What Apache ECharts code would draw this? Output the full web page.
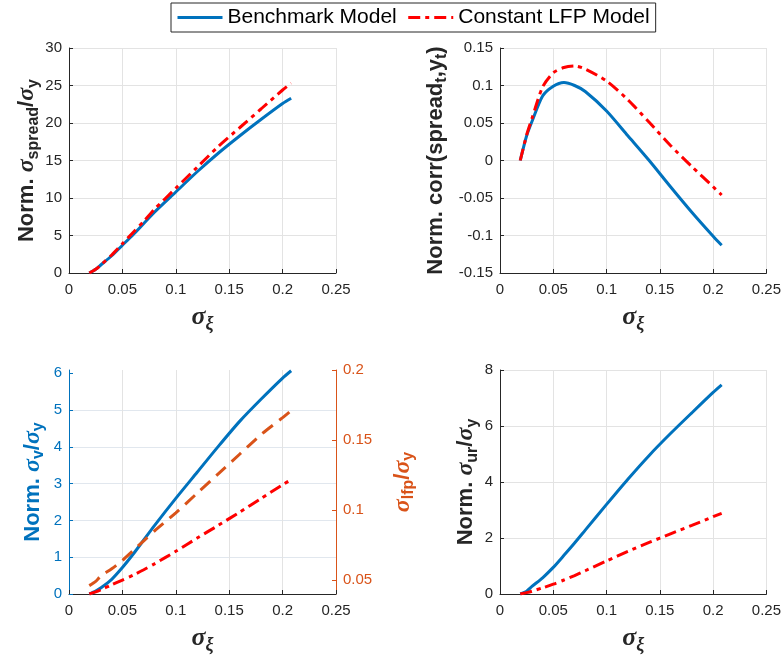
<!DOCTYPE html>
<html>
<head>
<meta charset="utf-8">
<script src="https://cdn.jsdelivr.net/npm/echarts@6/dist/echarts.min.js"></script>
<style>
  html, body { margin: 0; padding: 0; background: #ffffff; }
  #chart { width: 784px; height: 664px; }
</style>
</head>
<body>
<div id="chart"></div>
<script>
// Shock volatility sigma_xi (shared x values of every curve)
const sigmaXi = [0.019, 0.025, 0.03, 0.04, 0.05, 0.06, 0.07, 0.08, 0.10, 0.12, 0.14, 0.16, 0.18, 0.20, 0.208];

// Panel 1: normalised sigma_spread / sigma_y
const spreadBenchmark = [0, 0.5, 1.1, 2.3, 3.7, 5.1, 6.6, 8.1, 10.8, 13.5, 16.0, 18.3, 20.5, 22.6, 23.3];
const spreadConstLfp  = [0, 0.5, 1.1, 2.4, 3.9, 5.4, 6.9, 8.5, 11.3, 14.1, 16.9, 19.4, 21.9, 24.4, 25.3];

// Panel 2: normalised corr(spread_t, y_t)
const corrBenchmark = [0, 0.033, 0.052, 0.086, 0.099, 0.104, 0.100, 0.092, 0.066, 0.033, 0.000, -0.035, -0.069, -0.101, -0.113];
const corrConstLfp  = [0, 0.034, 0.056, 0.098, 0.117, 0.124, 0.126, 0.122, 0.106, 0.081, 0.051, 0.020, -0.008, -0.035, -0.046];

// Panel 3: normalised sigma_v / sigma_y (left) and sigma_lfp / sigma_y (right)
const vBenchmark   = [0, 0.08, 0.17, 0.40, 0.72, 1.08, 1.47, 1.86, 2.60, 3.31, 4.02, 4.70, 5.30, 5.87, 6.07];
const lfpBenchmark = [0.046, 0.049, 0.053, 0.058, 0.064, 0.071, 0.078, 0.085, 0.098, 0.112, 0.126, 0.140, 0.154, 0.166, 0.171];
const vConstLfp    = [0, 0.06, 0.12, 0.25, 0.38, 0.51, 0.66, 0.82, 1.16, 1.52, 1.87, 2.23, 2.60, 2.97, 3.11];

// Panel 4: normalised sigma_ur / sigma_y
const urBenchmark = [0, 0.10, 0.27, 0.58, 0.95, 1.38, 1.82, 2.28, 3.20, 4.10, 4.95, 5.73, 6.47, 7.20, 7.47];
const urConstLfp  = [0, 0.05, 0.10, 0.22, 0.35, 0.50, 0.66, 0.83, 1.18, 1.52, 1.84, 2.15, 2.45, 2.76, 2.88];

// Tick values
const xTicks = [0, 0.05, 0.1, 0.15, 0.2, 0.25];
const lfpTicks = [0.05, 0.1, 0.15, 0.2];
const vTicks = [0, 1, 2, 3, 4, 5, 6];

const legendNames = ['Benchmark Model', 'Constant LFP Model'];

const FONT = '"Liberation Sans", Arial, Helvetica, sans-serif';
const SERIF = '"Liberation Serif", "DejaVu Serif", serif';
const AXC = '#262626';
const GRIDC = '#e3e3e3';
const BLUE = '#0072BD';
const RED = '#FF0000';
const ORANGE = '#D95319';

function pairs(ys) { return sigmaXi.map((x, i) => [x, ys[i]]); }

function labelRich(color) {
  return {
    b:   { fontFamily: FONT, fontWeight: 'bold', fontSize: 22, color: color },
    s:   { fontFamily: SERIF, fontStyle: 'italic', fontWeight: 'bold', fontSize: 24, color: color },
    sub: { fontFamily: FONT, fontWeight: 'bold', fontSize: 16, color: color, padding: [13, 0, 0, 0] }
  };
}

function xAxisFor(gridIndex) {
  return {
    type: 'value', gridIndex: gridIndex, min: 0, max: 0.25, interval: 0.05,
    axisLine: { show: true, onZero: false, lineStyle: { color: AXC, width: 1 } },
    axisTick: { show: true, inside: true, length: 4, lineStyle: { color: AXC } },
    axisLabel: { color: AXC, fontSize: 15, fontFamily: FONT, margin: 9, customValues: xTicks },
    splitLine: { show: true, lineStyle: { color: GRIDC, width: 1 } },
    name: '{s|σ}{xi|ξ}', nameLocation: 'middle', nameGap: 29,
    nameTextStyle: {
      rich: {
        s:  { fontFamily: SERIF, fontStyle: 'italic', fontWeight: 'bold', fontSize: 26, color: AXC },
        xi: { fontFamily: SERIF, fontStyle: 'italic', fontWeight: 'bold', fontSize: 18, color: AXC, padding: [13, 0, 0, 0] }
      }
    }
  };
}

function yAxisFor(gridIndex, opts) {
  const color = opts.color || AXC;
  const ax = {
    type: 'value', gridIndex: gridIndex, min: opts.min, max: opts.max,
    position: opts.position || 'left',
    axisLine: { show: true, onZero: false, lineStyle: { color: color, width: 1 } },
    axisTick: { show: true, inside: true, length: 4, lineStyle: { color: color } },
    axisLabel: { color: color, fontSize: 15, fontFamily: FONT, margin: 7 },
    splitLine: { show: opts.split !== false, lineStyle: { color: opts.gridColor || GRIDC, width: 1 } },
    name: opts.name, nameLocation: 'middle', nameRotate: 90, nameGap: opts.nameGap,
    nameTextStyle: { rich: labelRich(color) }
  };
  if (opts.interval != null) ax.interval = opts.interval;
  if (opts.tickValues) {
    ax.axisTick.customValues = opts.tickValues;
    ax.axisLabel.customValues = opts.tickValues;
  }
  if (opts.hideMaxSplit) ax.splitLine.showMaxLine = false;
  return ax;
}

function lineSeries(name, data, xi, yi, color, dash) {
  return {
    type: 'line', name: name, xAxisIndex: xi, yAxisIndex: yi,
    data: pairs(data), showSymbol: false, symbol: 'none',
    smooth: 0.25,
    lineStyle: { color: color, width: 3, type: dash || 'solid', cap: 'butt' },
    itemStyle: { color: color },
    emphasis: { disabled: true }, animation: false
  };
}

const DASHDOT = [12, 5, 4, 5];
const DASHED = [13, 8];

const option = {
  backgroundColor: '#ffffff',
  animation: false,
  legend: {
    data: legendNames,
    left: 171, top: 3,
    itemWidth: 45, itemHeight: 12, itemGap: 10,
    itemStyle: { opacity: 0 },
    lineStyle: { width: 3 },
    textStyle: { fontSize: 21, fontFamily: FONT, color: '#000000' },
    borderColor: AXC, borderWidth: 1, padding: [4, 6, 4, 5],
    backgroundColor: '#ffffff'
  },
  grid: [
    { left: 69,  top: 48,  width: 267, height: 225 },
    { left: 500, top: 48,  width: 268, height: 225 },
    { left: 69,  top: 370, width: 267, height: 224 },
    { left: 500, top: 370, width: 268, height: 224 }
  ],
  xAxis: [xAxisFor(0), xAxisFor(1), xAxisFor(2), xAxisFor(3)],
  yAxis: [
    yAxisFor(0, { min: 0, max: 30, interval: 5, nameGap: 26,
      name: '{b|Norm. }{s|σ}{sub|spread}{b|/}{s|σ}{sub|y}' }),
    yAxisFor(1, { min: -0.15, max: 0.15, interval: 0.05, nameGap: 50,
      name: '{b|Norm. corr(spread}{sub|t}{b|,y}{sub|t}{b|)}' }),
    yAxisFor(2, { min: 0, max: 6.09, interval: 1, color: BLUE, gridColor: '#e1e7ee',
      tickValues: vTicks, hideMaxSplit: true, nameGap: 22,
      name: '{b|Norm. }{s|σ}{sub|v}{b|/}{s|σ}{sub|y}' }),
    yAxisFor(2, { min: 0.04, max: 0.2, color: ORANGE, position: 'right', split: false,
      tickValues: lfpTicks, nameGap: 52,
      name: '{s|σ}{sub|lfp}{b|/}{s|σ}{sub|y}' }),
    yAxisFor(3, { min: 0, max: 8, interval: 2, nameGap: 17,
      name: '{b|Norm. }{s|σ}{sub|ur}{b|/}{s|σ}{sub|y}' })
  ],
  series: [
    lineSeries('Benchmark Model', spreadBenchmark, 0, 0, BLUE),
    lineSeries('Constant LFP Model', spreadConstLfp, 0, 0, RED, DASHDOT),
    lineSeries('Benchmark Model', corrBenchmark, 1, 1, BLUE),
    lineSeries('Constant LFP Model', corrConstLfp, 1, 1, RED, DASHDOT),
    lineSeries('Benchmark Model', vBenchmark, 2, 2, BLUE),
    lineSeries('σlfp Benchmark', lfpBenchmark, 2, 3, ORANGE, DASHED),
    lineSeries('Constant LFP Model', vConstLfp, 2, 2, RED, DASHDOT),
    lineSeries('Benchmark Model', urBenchmark, 3, 4, BLUE),
    lineSeries('Constant LFP Model', urConstLfp, 3, 4, RED, DASHDOT)
  ]
};

const chart = echarts.init(document.getElementById('chart'), null, { renderer: 'canvas' });
chart.setOption(option);
</script>
</body>
</html>
